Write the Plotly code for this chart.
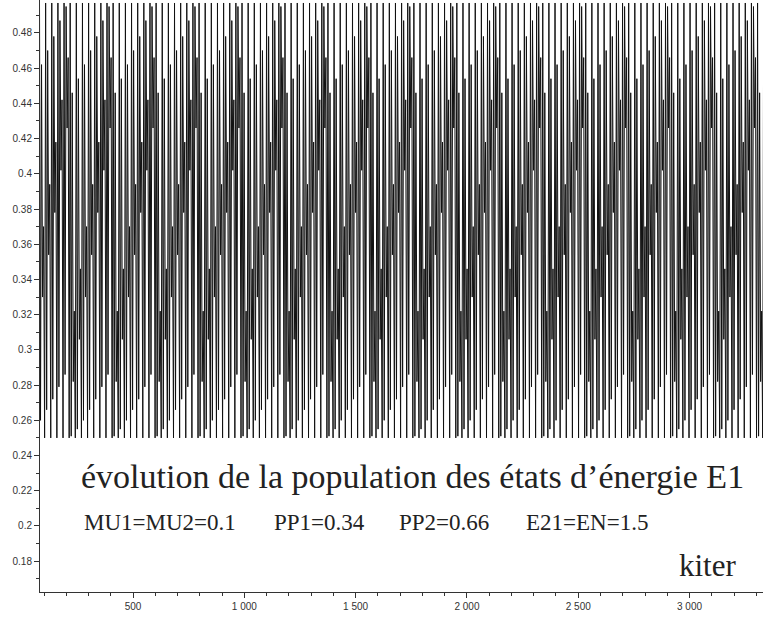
import plotly.graph_objects as go

# --- E1 population: extrema of one recurring beat cycle (about 193 kiter long) ---
top_peak = 0.497                                         # peaks touching the upper limit
floor_valley = 0.250                                     # valleys touching the lower limit
stair_peaks = [0.446, 0.454, 0.462, 0.470, 0.478, 0.487, 0.495]    # rising upper staircase
stair_valleys = [0.251, 0.255, 0.260, 0.266, 0.272, 0.279, 0.286]  # rising lower staircase
band_low = [0.282, 0.306, 0.330, 0.354, 0.378, 0.402, 0.426]       # inner dense band, bottom
band_high = [0.322, 0.346, 0.370, 0.394, 0.418, 0.442, 0.466]      # inner dense band, top
cycle_len = 193.0   # kiter per beat cycle
first_cycle = 20.0  # kiter where the first drawn cycle starts
n_cycles = 18

xs, ys = [], []
per_cycle = 6 * len(stair_peaks)
step = cycle_len / per_cycle
for c in range(n_cycles):
    seq = []
    for j in range(len(stair_peaks)):
        seq += [floor_valley, top_peak, stair_valleys[j], stair_peaks[j],
                band_low[j], band_high[j]]
    for i, v in enumerate(seq):
        xs.append(first_cycle + c * cycle_len + i * step)
        ys.append(v)

x_ticks = [500, 1000, 1500, 2000, 2500, 3000]
x_tick_text = ["500", "1 000", "1 500", "2 000", "2 500", "3 000"]
y_ticks = [0.18, 0.2, 0.22, 0.24, 0.26, 0.28, 0.3, 0.32, 0.34, 0.36, 0.38,
           0.4, 0.42, 0.44, 0.46, 0.48]
y_tick_text = ["0.18", "0.2", "0.22", "0.24", "0.26", "0.28", "0.3", "0.32",
               "0.34", "0.36", "0.38", "0.4", "0.42", "0.44", "0.46", "0.48"]

fig = go.Figure()
fig.add_trace(go.Scatter(x=xs, y=ys, mode="lines",
                         line=dict(color="#111111", width=1),
                         hoverinfo="skip", showlegend=False))

axis_col = "#333333"
axis_font = dict(family="Liberation Sans, Arial, sans-serif", size=10, color=axis_col)
fig.update_xaxes(range=[82, 3330], tickvals=x_ticks, ticktext=x_tick_text,
                 ticks="outside", ticklen=5, tickcolor=axis_col,
                 showline=True, linecolor=axis_col, linewidth=1,
                 showgrid=False, zeroline=False, tickfont=axis_font,
                 minor=dict(dtick=100, tick0=0, ticks="outside", ticklen=3,
                            tickcolor=axis_col, showgrid=False))
fig.update_yaxes(range=[0.1625, 0.4987], tickvals=y_ticks, ticktext=y_tick_text,
                 ticks="outside", ticklen=5, tickcolor=axis_col,
                 showline=True, linecolor=axis_col, linewidth=1,
                 showgrid=False, zeroline=False, tickfont=axis_font,
                 minor=dict(dtick=0.01, tick0=0, ticks="outside", ticklen=3,
                            tickcolor=axis_col, showgrid=False))

serif = "Liberation Serif, Times New Roman, serif"
txt_col = "#222222"


def note(x, y, text, size, anchor="left"):
    fig.add_annotation(x=x, y=y, xref="paper", yref="paper", xanchor=anchor,
                       yanchor="middle", showarrow=False, text=text,
                       font=dict(family=serif, size=size, color=txt_col))


note(0.054, 0.195, "évolution de la population des états d’énergie E1", 34)
note(0.058, 0.117, "MU1=MU2=0.1", 23)
note(0.321, 0.117, "PP1=0.34", 23)
note(0.494, 0.117, "PP2=0.66", 23)
note(0.669, 0.117, "E21=EN=1.5", 23)
note(0.965, 0.045, "kiter", 31, anchor="right")

fig.update_layout(width=763, height=618, margin=dict(l=40, r=0, t=0, b=26),
                  plot_bgcolor="white", paper_bgcolor="white")
fig.write_html("out.html")
